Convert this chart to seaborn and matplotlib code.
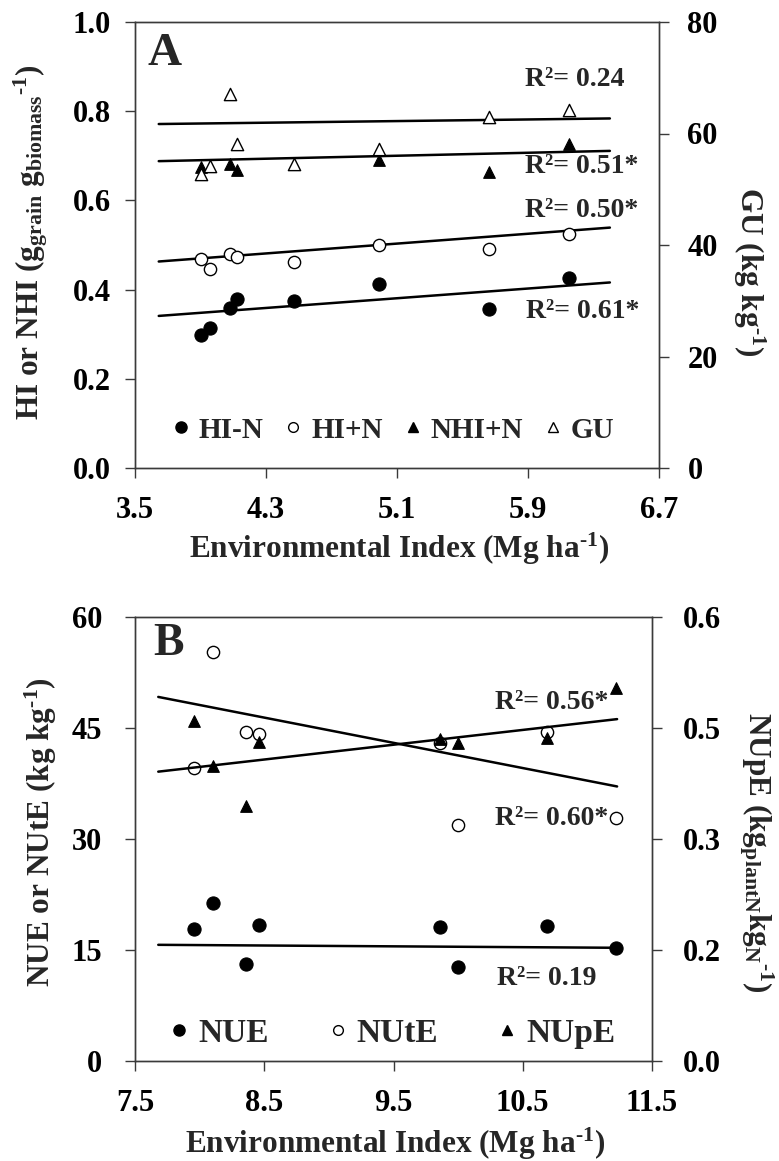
import numpy as np
import pandas as pd
import matplotlib
matplotlib.use("Agg")
import matplotlib.pyplot as plt
import seaborn as sns
from matplotlib.lines import Line2D
from matplotlib.ticker import FormatStrFormatter, FixedLocator, FixedFormatter

# ---------------- Panel A data ----------------
ei_a = [3.90, 3.955, 4.08, 4.125, 4.47, 4.99, 5.66, 6.15]
hi_minus_n = [0.298, 0.315, 0.358, 0.378, 0.374, 0.412, 0.356, 0.427]
hi_plus_n = [0.469, 0.446, 0.479, 0.472, 0.463, 0.500, 0.491, 0.524]
nhi_plus_n = [0.676, np.nan, 0.681, 0.668, np.nan, 0.691, 0.664, 0.726]
gu = [52.7, 54.2, 67.0, 58.1, 54.5, 57.2, 63.0, 64.3]

fit_x_a = [3.645, 6.40]
fit_hi_minus_n = [0.341, 0.416]
fit_hi_plus_n = [0.463, 0.539]
fit_nhi_plus_n = [0.688, 0.711]
fit_gu = [61.7, 62.7]

r2_labels_a = ["R²= 0.24", "R²= 0.51*", "R²= 0.50*", "R²= 0.61*"]
r2_x_a = [5.88, 5.88, 5.88, 5.89]
r2_y_a = [0.872, 0.677, 0.578, 0.350]

xticks_a = [3.5, 4.3, 5.1, 5.9, 6.7]
yticks_a = [0.0, 0.2, 0.4, 0.6, 0.8, 1.0]
yticks_gu = [0, 20, 40, 60, 80]

# ---------------- Panel B data ----------------
ei_b = [7.96, 8.10, 8.36, 8.46, 9.86, 10.00, 10.69, 11.22]
nue = [17.8, 21.4, 13.1, 18.4, 18.1, 12.7, 18.3, 15.3]
nute = [39.6, 55.3, 44.4, 44.2, 43.0, 31.9, 44.5, 32.9]
nupe = [0.459, 0.399, 0.345, 0.431, 0.435, 0.430, 0.437, 0.504]

fit_x_b = [7.68, 11.23]
fit_nue = [15.7, 15.3]
fit_nute = [49.2, 37.1]
fit_nupe = [0.391, 0.462]

r2_labels_b = ["R²= 0.56*", "R²= 0.60*", "R²= 0.19"]
r2_x_b = [10.285, 10.285, 10.30]
r2_y_b = [48.4, 32.8, 11.2]

xticks_b = [7.5, 8.5, 9.5, 10.5, 11.5]
yticks_b = [0, 15, 30, 45, 60]
yticks_nupe = [0.0, 0.15, 0.30, 0.45, 0.60]
yticklabels_nupe = ["0.0", "0.2", "0.3", "0.5", "0.6"]

# ---------------- style ----------------
sns.set_style("ticks")
plt.rcParams["font.family"] = ["Liberation Serif", "DejaVu Serif"]
plt.rcParams["font.weight"] = "bold"
plt.rcParams["axes.labelweight"] = "bold"
plt.rcParams["mathtext.fontset"] = "custom"
plt.rcParams["mathtext.rm"] = "Liberation Serif"
plt.rcParams["mathtext.it"] = "Liberation Serif:italic"
plt.rcParams["mathtext.bf"] = "Liberation Serif:bold"

SP = "#3a3a3a"
TICK_FS = 22
LAB_FS = 22.5
R2_FS = 20
INV = r"$^{\text{-1}}$"

fig = plt.figure(figsize=(7.79, 11.61), dpi=100)
axA = fig.add_axes([135 / 779, 1 - 468 / 1161, 524 / 779, 446 / 1161])
axB = fig.add_axes([135 / 779, 1 - 1061 / 1161, 517 / 779, 444 / 1161])
axA2 = axA.twinx()
axB2 = axB.twinx()

filled = dict(color="black", edgecolor="black", linewidth=0.8, zorder=3)
openm = dict(color="white", edgecolor="black", linewidth=1.0, zorder=3)

# ---- Panel A ----
dfA = pd.DataFrame({"ei": ei_a, "hin": hi_minus_n, "hip": hi_plus_n,
                    "nhi": nhi_plus_n, "gu": gu})
for fy in [fit_hi_minus_n, fit_hi_plus_n, fit_nhi_plus_n]:
    sns.lineplot(x=fit_x_a, y=fy, ax=axA, color="black", linewidth=1.8, zorder=2)
sns.lineplot(x=fit_x_a, y=fit_gu, ax=axA2, color="black", linewidth=1.8, zorder=2)
sns.scatterplot(data=dfA, x="ei", y="hin", marker="o", s=90, ax=axA, **filled)
sns.scatterplot(data=dfA, x="ei", y="hip", marker="o", s=78, ax=axA, **openm)
sns.scatterplot(data=dfA.dropna(subset=["nhi"]), x="ei", y="nhi", marker="^", s=70, ax=axA, **filled)
sns.scatterplot(data=dfA, x="ei", y="gu", marker="^", s=78, ax=axA2, **openm)

axA.set_xlim(3.5, 6.7)
axA.set_ylim(0, 1.0)
axA2.set_ylim(0, 80)
axA.set_xticks(xticks_a)
axA.set_yticks(yticks_a)
axA2.set_yticks(yticks_gu)
axA.xaxis.set_major_formatter(FormatStrFormatter("%.1f"))
axA.yaxis.set_major_formatter(FormatStrFormatter("%.1f"))

for t, x, y in zip(r2_labels_a, r2_x_a, r2_y_a):
    axA.text(x, y, t, fontsize=R2_FS, fontweight="bold", va="center", ha="left")
axA.text(0.023, 0.928, "A", transform=axA.transAxes, fontsize=34,
         fontweight="bold", va="center", ha="left")

axA.set_xlabel("Environmental Index (Mg ha" + INV + ")", fontsize=LAB_FS, va="baseline")
axA.set_ylabel(r"HI or NHI (g$_{\mathrm{grain}}$ g$_{\mathrm{biomass}}$" + INV + ")",
               fontsize=LAB_FS, va="baseline")
axA2.set_ylabel("GU (kg kg" + INV + ")", fontsize=LAB_FS, rotation=270, va="baseline")
axA.xaxis.set_label_coords(0.503, -0.202)
axA.yaxis.set_label_coords(-0.185, 0.506)
axA2.yaxis.set_label_coords(1.1546, 0.44)

hA = [Line2D([], [], marker="o", ls="", color="black", markersize=8),
      Line2D([], [], marker="o", ls="", markerfacecolor="white", markeredgecolor="black", markersize=7),
      Line2D([], [], marker="^", ls="", color="black", markersize=7),
      Line2D([], [], marker="^", ls="", markerfacecolor="white", markeredgecolor="black", markersize=7)]
axA.legend(hA, ["HI-N", "HI+N", "NHI+N", "GU"], ncol=4, loc="center",
           bbox_to_anchor=(0.493, 0.085), frameon=False, fontsize=21,
           handlelength=0.6, handletextpad=0.32, columnspacing=0.72, borderpad=0)

# ---- Panel B ----
dfB = pd.DataFrame({"ei": ei_b, "nue": nue, "nute": nute, "nupe": nupe})
for fy in [fit_nue, fit_nute]:
    sns.lineplot(x=fit_x_b, y=fy, ax=axB, color="black", linewidth=1.8, zorder=2)
sns.lineplot(x=fit_x_b, y=fit_nupe, ax=axB2, color="black", linewidth=1.8, zorder=2)
sns.scatterplot(data=dfB, x="ei", y="nue", marker="o", s=90, ax=axB, **filled)
sns.scatterplot(data=dfB, x="ei", y="nute", marker="o", s=78, ax=axB, **openm)
sns.scatterplot(data=dfB, x="ei", y="nupe", marker="^", s=70, ax=axB2, **filled)

axB.set_xlim(7.5, 11.5)
axB.set_ylim(0, 60)
axB2.set_ylim(0, 0.6)
axB.set_xticks(xticks_b)
axB.set_yticks(yticks_b)
axB2.yaxis.set_major_locator(FixedLocator(yticks_nupe))
axB2.yaxis.set_major_formatter(FixedFormatter(yticklabels_nupe))
axB.xaxis.set_major_formatter(FormatStrFormatter("%.1f"))

for t, x, y in zip(r2_labels_b, r2_x_b, r2_y_b):
    axB.text(x, y, t, fontsize=R2_FS, fontweight="bold", va="center", ha="left")
axB.text(0.035, 0.939, "B", transform=axB.transAxes, fontsize=33,
         fontweight="bold", va="center", ha="left")

axB.set_xlabel("Environmental Index (Mg ha" + INV + ")", fontsize=LAB_FS, va="baseline")
axB.set_ylabel("NUE or NUtE (kg kg" + INV + ")", fontsize=LAB_FS, va="baseline")
axB2.set_ylabel(r"NUpE (kg$_{\mathrm{plantN}}$kg$_{\mathrm{N}}$" + INV + ")",
                fontsize=LAB_FS, rotation=270, va="baseline")
axB.xaxis.set_label_coords(0.503, -0.207)
axB.yaxis.set_label_coords(-0.164, 0.516)
axB2.yaxis.set_label_coords(1.186, 0.47)

hB = [Line2D([], [], marker="o", ls="", color="black", markersize=8),
      Line2D([], [], marker="o", ls="", markerfacecolor="white", markeredgecolor="black", markersize=7),
      Line2D([], [], marker="^", ls="", color="black", markersize=7)]
axB.legend(hB, ["NUE", "NUtE", "NUpE"], ncol=3, loc="center",
           bbox_to_anchor=(0.498, 0.063), frameon=False, fontsize=24,
           handlelength=0.6, handletextpad=0.27, columnspacing=1.77, borderpad=0)

# ---- spines / ticks ----
for ax in [axA, axB, axA2, axB2]:
    for s in ax.spines.values():
        s.set_color(SP)
        s.set_linewidth(1.0)
        s.set_visible(True)
    ax.tick_params(direction="out", length=7.5, width=1.0, color=SP,
                   labelsize=TICK_FS, labelcolor="black")
    for lab in ax.get_xticklabels() + ax.get_yticklabels():
        lab.set_fontweight("bold")
    ax.grid(False)

axA.tick_params(axis="x", pad=13)
axB.tick_params(axis="x", pad=13)
axA.tick_params(axis="y", pad=10)
axB.tick_params(axis="y", pad=16)
axA2.tick_params(axis="y", pad=13)
axB2.tick_params(axis="y", pad=15)

fig.savefig("out.png", dpi=100)
